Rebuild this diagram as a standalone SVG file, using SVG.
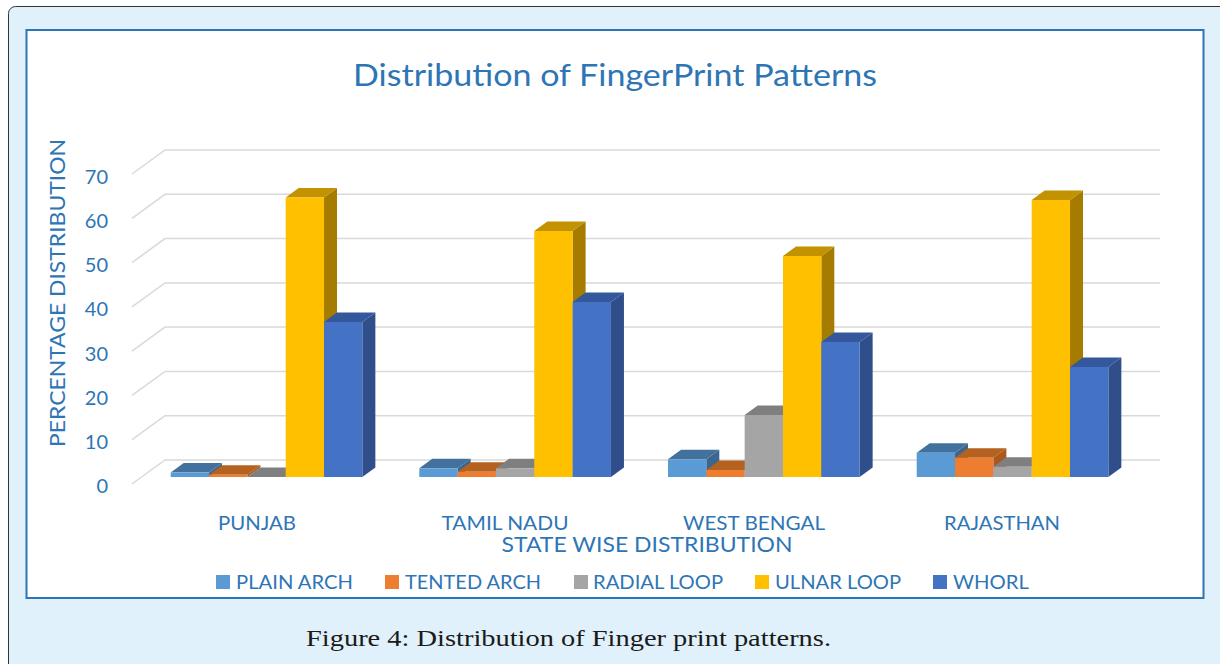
<svg xmlns="http://www.w3.org/2000/svg" width="1220" height="664" viewBox="0 0 1220 664">
<style>
.t{font-family:Lato,"Liberation Sans",sans-serif;fill:#2E75B6}
.grid{stroke:#D9D9D9;stroke-width:1.5;fill:none}
.paf{fill:#5B9BD5}.pat{fill:#41719C}.pas{fill:#3A6690}
.taf{fill:#ED7D31}.tat{fill:#B5611F}.tas{fill:#A9591F}
.raf{fill:#A5A5A5}.rat{fill:#7F7F7F}.ras{fill:#777777}
.ulf{fill:#FFC000}.ult{fill:#C29200}.uls{fill:#A67C00}
.whf{fill:#4472C4}.wht{fill:#34589B}.whs{fill:#2F4E8A}
</style>
<rect x="8.5" y="6.5" width="1240" height="700" rx="7" fill="#E0F1FB" stroke="#333" stroke-width="1"/>
<rect x="26.5" y="30" width="1177" height="568" fill="#FFFFFF" stroke="#2E75B6" stroke-width="2"/>
<text class="t" x="615" y="86" font-size="31" text-anchor="middle" textLength="524" lengthAdjust="spacingAndGlyphs">Distribution of FingerPrint Patterns</text>
<g id="gridlines">
<path class="grid" d="M132,484 L165,460 H1160 M132,439.7 L165,415.7 H1160 M132,395.4 L165,371.4 H1160 M132,351.1 L165,327.1 H1160 M132,306.9 L165,282.9 H1160 M132,262.6 L165,238.6 H1160 M132,218.3 L165,194.3 H1160 M132,174 L165,150 H1160"/>
</g>
<g id="axis-labels" class="t" font-size="20" text-anchor="end">
<text x="108" y="184">70</text>
<text x="108" y="228">60</text>
<text x="108" y="272">50</text>
<text x="108" y="316">40</text>
<text x="108" y="361">30</text>
<text x="108" y="405">20</text>
<text x="108" y="449">10</text>
<text x="108" y="493">0</text>
</g>
<text class="t" x="65" y="293" font-size="22" text-anchor="middle" transform="rotate(-90 65 293)" textLength="308" lengthAdjust="spacingAndGlyphs">PERCENTAGE DISTRIBUTION</text>
<g id="punjab">
<polygon class="pas" points="209.03,472.6 222.03,463.1 222.03,467.5 209.03,477"/>
<polygon class="pat" points="170.7,472.6 183.7,463.1 222.03,463.1 209.03,472.6"/>
<rect class="paf" x="170.7" y="472.6" width="38.33" height="4.4"/>
<polygon class="tas" points="247.36,474.8 260.36,465.3 260.36,467.5 247.36,477"/>
<polygon class="tat" points="209.03,474.8 222.03,465.3 260.36,465.3 247.36,474.8"/>
<rect class="taf" x="209.03" y="474.8" width="38.33" height="2.2"/>
<polygon class="rat" points="247.36,477 260.36,467.5 298.69,467.5 285.69,477"/>
<polygon class="uls" points="324.02,197.5 337.02,188 337.02,467.5 324.02,477"/>
<polygon class="ult" points="285.69,197.5 298.69,188 337.02,188 324.02,197.5"/>
<rect class="ulf" x="285.69" y="197.5" width="38.33" height="279.5"/>
<polygon class="whs" points="362.35,322 375.35,312.5 375.35,467.5 362.35,477"/>
<polygon class="wht" points="324.02,322 337.02,312.5 375.35,312.5 362.35,322"/>
<rect class="whf" x="324.02" y="322" width="38.33" height="155"/>
</g>
<g id="tamil-nadu">
<polygon class="pas" points="457.63,468.3 470.63,458.8 470.63,467.5 457.63,477"/>
<polygon class="pat" points="419.3,468.3 432.3,458.8 470.63,458.8 457.63,468.3"/>
<rect class="paf" x="419.3" y="468.3" width="38.33" height="8.7"/>
<polygon class="tas" points="495.96,471.7 508.96,462.2 508.96,467.5 495.96,477"/>
<polygon class="tat" points="457.63,471.7 470.63,462.2 508.96,462.2 495.96,471.7"/>
<rect class="taf" x="457.63" y="471.7" width="38.33" height="5.3"/>
<polygon class="ras" points="534.29,468.3 547.29,458.8 547.29,467.5 534.29,477"/>
<polygon class="rat" points="495.96,468.3 508.96,458.8 547.29,458.8 534.29,468.3"/>
<rect class="raf" x="495.96" y="468.3" width="38.33" height="8.7"/>
<polygon class="uls" points="572.62,231 585.62,221.5 585.62,467.5 572.62,477"/>
<polygon class="ult" points="534.29,231 547.29,221.5 585.62,221.5 572.62,231"/>
<rect class="ulf" x="534.29" y="231" width="38.33" height="246"/>
<polygon class="whs" points="610.95,302 623.95,292.5 623.95,467.5 610.95,477"/>
<polygon class="wht" points="572.62,302 585.62,292.5 623.95,292.5 610.95,302"/>
<rect class="whf" x="572.62" y="302" width="38.33" height="175"/>
</g>
<g id="west-bengal">
<polygon class="pas" points="706.33,459.3 719.33,449.8 719.33,467.5 706.33,477"/>
<polygon class="pat" points="668,459.3 681,449.8 719.33,449.8 706.33,459.3"/>
<rect class="paf" x="668" y="459.3" width="38.33" height="17.7"/>
<polygon class="tas" points="744.66,470 757.66,460.5 757.66,467.5 744.66,477"/>
<polygon class="tat" points="706.33,470 719.33,460.5 757.66,460.5 744.66,470"/>
<rect class="taf" x="706.33" y="470" width="38.33" height="7"/>
<polygon class="ras" points="782.99,415 795.99,405.5 795.99,467.5 782.99,477"/>
<polygon class="rat" points="744.66,415 757.66,405.5 795.99,405.5 782.99,415"/>
<rect class="raf" x="744.66" y="415" width="38.33" height="62"/>
<polygon class="uls" points="821.32,256 834.32,246.5 834.32,467.5 821.32,477"/>
<polygon class="ult" points="782.99,256 795.99,246.5 834.32,246.5 821.32,256"/>
<rect class="ulf" x="782.99" y="256" width="38.33" height="221"/>
<polygon class="whs" points="859.65,342 872.65,332.5 872.65,467.5 859.65,477"/>
<polygon class="wht" points="821.32,342 834.32,332.5 872.65,332.5 859.65,342"/>
<rect class="whf" x="821.32" y="342" width="38.33" height="135"/>
</g>
<g id="rajasthan">
<polygon class="pas" points="955.03,452.7 968.03,443.2 968.03,467.5 955.03,477"/>
<polygon class="pat" points="916.7,452.7 929.7,443.2 968.03,443.2 955.03,452.7"/>
<rect class="paf" x="916.7" y="452.7" width="38.33" height="24.3"/>
<polygon class="tas" points="993.36,457.7 1006.36,448.2 1006.36,467.5 993.36,477"/>
<polygon class="tat" points="955.03,457.7 968.03,448.2 1006.36,448.2 993.36,457.7"/>
<rect class="taf" x="955.03" y="457.7" width="38.33" height="19.3"/>
<polygon class="ras" points="1031.69,466.7 1044.69,457.2 1044.69,467.5 1031.69,477"/>
<polygon class="rat" points="993.36,466.7 1006.36,457.2 1044.69,457.2 1031.69,466.7"/>
<rect class="raf" x="993.36" y="466.7" width="38.33" height="10.3"/>
<polygon class="uls" points="1070.02,200 1083.02,190.5 1083.02,467.5 1070.02,477"/>
<polygon class="ult" points="1031.69,200 1044.69,190.5 1083.02,190.5 1070.02,200"/>
<rect class="ulf" x="1031.69" y="200" width="38.33" height="277"/>
<polygon class="whs" points="1108.35,367 1121.35,357.5 1121.35,467.5 1108.35,477"/>
<polygon class="wht" points="1070.02,367 1083.02,357.5 1121.35,357.5 1108.35,367"/>
<rect class="whf" x="1070.02" y="367" width="38.33" height="110"/>
</g>
<g id="categories" class="t" font-size="19" text-anchor="middle">
<text x="257" y="530" textLength="78" lengthAdjust="spacingAndGlyphs">PUNJAB</text>
<text x="505" y="530" textLength="127" lengthAdjust="spacingAndGlyphs">TAMIL NADU</text>
<text x="754" y="530" textLength="142" lengthAdjust="spacingAndGlyphs">WEST BENGAL</text>
<text x="1002" y="530" textLength="116" lengthAdjust="spacingAndGlyphs">RAJASTHAN</text>
</g>
<text class="t" x="647" y="552" font-size="21" text-anchor="middle" textLength="291" lengthAdjust="spacingAndGlyphs">STATE WISE DISTRIBUTION</text>
<g id="legend" class="t" font-size="20">
<rect class="paf" x="216" y="575" width="14" height="14"/>
<text x="236" y="589" textLength="117" lengthAdjust="spacingAndGlyphs">PLAIN ARCH</text>
<rect class="taf" x="385" y="575" width="14" height="14"/>
<text x="405" y="589" textLength="136" lengthAdjust="spacingAndGlyphs">TENTED ARCH</text>
<rect class="raf" x="574" y="575" width="14" height="14"/>
<text x="593" y="589" textLength="130" lengthAdjust="spacingAndGlyphs">RADIAL LOOP</text>
<rect class="ulf" x="755" y="575" width="14" height="14"/>
<text x="775" y="589" textLength="126" lengthAdjust="spacingAndGlyphs">ULNAR LOOP</text>
<rect class="whf" x="933" y="575" width="14" height="14"/>
<text x="953" y="589" textLength="76" lengthAdjust="spacingAndGlyphs">WHORL</text>
</g>
<text x="568.5" y="646" font-family="'Liberation Serif',serif" font-size="24" fill="#1A1A1A" text-anchor="middle" textLength="525" lengthAdjust="spacingAndGlyphs">Figure 4: Distribution of Finger print patterns.</text>
</svg>
